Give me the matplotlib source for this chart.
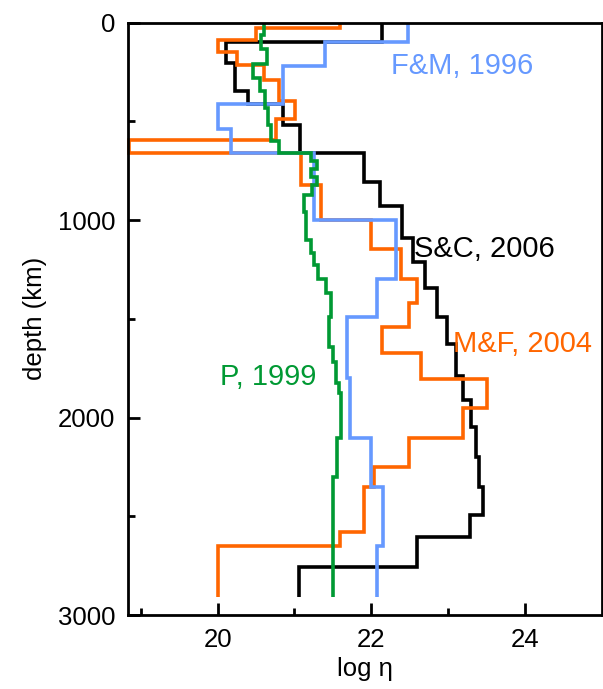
import numpy as np
import matplotlib.pyplot as plt

plt.rcParams['font.family'] = ['Liberation Sans', 'DejaVu Sans']

# viscosity profiles: layer boundaries (km) and log10 viscosity per layer
sc_depth = [0, 100, 207, 345, 414, 519, 659, 806, 929, 1093, 1211, 1346, 1493, 1628,
            1790, 1911, 2047, 2198, 2350, 2494, 2603, 2755, 2907]
sc_eta = [22.14, 20.11, 20.23, 20.40, 20.85, 21.07, 21.90, 22.11, 22.40, 22.54, 22.70,
          22.85, 22.99, 23.10, 23.20, 23.30, 23.36, 23.40, 23.45, 23.29, 22.59, 21.06]

mf_depth = [0, 29, 90, 148, 217, 293, 396, 489, 595, 659, 820, 1000, 1148, 1299, 1419,
            1540, 1675, 1805, 1953, 2102, 2249, 2350, 2581, 2649, 2907]
mf_eta = [21.60, 20.50, 20.00, 20.25, 20.61, 20.80, 21.01, 20.76, 18.85, 21.09, 21.34,
          22.00, 22.39, 22.59, 22.49, 22.14, 22.65, 23.51, 23.20, 22.49, 22.04, 21.90,
          21.60, 20.00]

fm_depth = [0, 100, 219, 414, 539, 659, 1000, 1299, 1493, 1802, 2102, 2350, 2649, 2907]
fm_eta = [22.48, 21.40, 20.85, 20.00, 20.18, 21.26, 22.32, 22.08, 21.68, 21.72, 22.00,
          22.15, 22.08]

p_depth = [0, 63, 135, 210, 279, 347, 433, 520, 600, 659, 700, 740, 780, 820, 873, 958,
           1100, 1169, 1228, 1298, 1367, 1493, 1645, 1720, 1827, 1877, 2102, 2303, 2907]
p_eta = [20.61, 20.56, 20.64, 20.46, 20.55, 20.62, 20.66, 20.70, 20.80, 21.22, 21.30,
         21.22, 21.30, 21.23, 21.12, 21.15, 21.21, 21.25, 21.31, 21.41, 21.48, 21.45,
         21.50, 21.54, 21.58, 21.61, 21.55, 21.50]

fig = plt.figure(figsize=(6.03, 6.89), dpi=100)
ax = fig.add_axes([0.2118, 0.1074, 0.786, 0.8598])

lw = 2.6
for eta, depth, col in [(sc_eta, sc_depth, 'black'),
                        (mf_eta, mf_depth, '#ff6600'),
                        (fm_eta, fm_depth, '#6699ff'),
                        (p_eta, p_depth, '#009933')]:
    ax.stairs(eta, depth, orientation='horizontal', baseline=None,
              edgecolor=col, linewidth=lw, clip_on=False)

txt = dict(fontsize=21, ha='left', va='baseline')
ax.text(22.26, 261, 'F&M, 1996', color='#6699ff', **txt)
ax.text(22.56, 1189, 'S&C, 2006', color='black', **txt)
ax.text(23.07, 1667, 'M&F, 2004', color='#ff6600', **txt)
ax.text(20.03, 1835, 'P, 1999', color='#009933', **txt)

ax.set_xlim(18.83, 25.0)
ax.set_ylim(3000, 0)
ax.set_xticks([20, 22, 24])
ax.set_xticks([19, 21, 23], minor=True)
ax.set_yticks([0, 1000, 2000, 3000])
ax.set_yticks([500, 1500, 2500], minor=True)
ax.tick_params(which='both', direction='in', width=2.0, labelsize=18.5, pad=9,
               top=False, right=False)
ax.tick_params(which='major', length=8.6)
ax.tick_params(which='minor', length=4.8)
for s in ax.spines.values():
    s.set_linewidth(2.0)

ax.set_xlabel('log η', fontsize=18.5, labelpad=4)
ax.set_ylabel('depth (km)', fontsize=18.5, labelpad=8)

fig.savefig('out.png', dpi=100)
